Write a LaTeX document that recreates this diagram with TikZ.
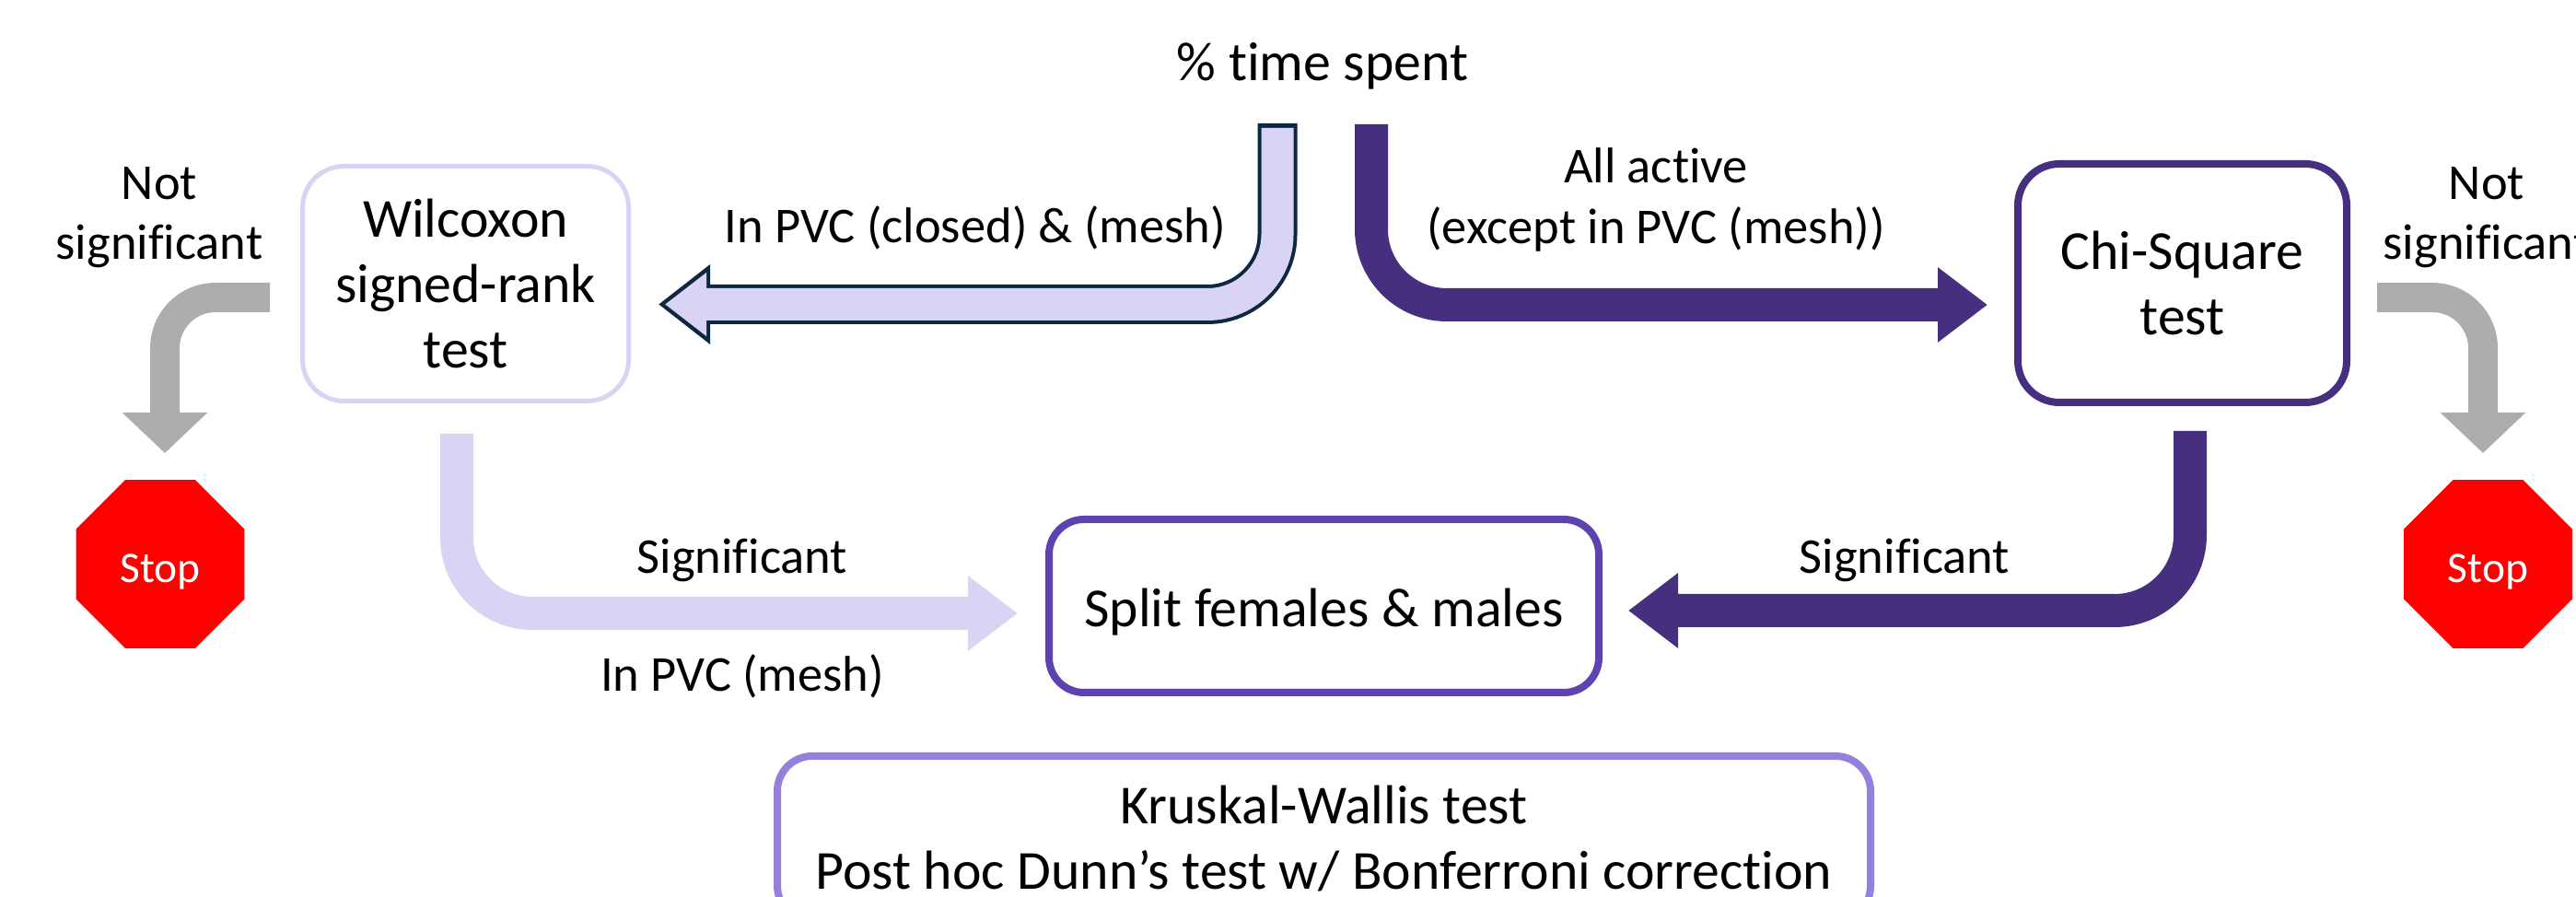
\documentclass[tikz,border=0pt]{standalone}
\usepackage{fontspec}
\setmainfont{Carlito}[Ligatures=CommonOff]
\usetikzlibrary{arrows.meta,shapes.geometric}
\definecolor{pale}{HTML}{DAD4F4}
\definecolor{deep}{HTML}{472F7F}
\definecolor{mid}{HTML}{5E43B0}
\definecolor{soft}{HTML}{9580DC}
\definecolor{ink}{HTML}{0E2841}
\definecolor{stopgray}{HTML}{ADADAD}
\begin{document}
\begin{tikzpicture}[
        testbox/.style={draw,rounded corners=0.45cm,align=center,fill=white,inner sep=0pt,
            font=\fontsize{17}{20.2}\selectfont},
        lbl/.style={align=center,inner sep=0pt,font=\fontsize{15.5}{18.6}\selectfont},
        flow/.style={line width=0.36cm,rounded corners=0.82cm,line join=miter,
            -{Triangle[width=0.78cm,length=0.54cm]}},
        halt/.style={line width=0.32cm,rounded corners=0.55cm,line join=miter,color=stopgray,
            -{Triangle[width=0.9cm,length=0.44cm]}}
    ]
        \useasboundingbox (0,0) rectangle (27.97,-9.74);
        \clip (0,0) rectangle (27.97,-9.74);
        \node (wilcoxon) [testbox,draw=pale,line width=0.05cm,minimum width=3.54cm,minimum height=2.55cm] at (5.055,-3.08) {Wilcoxon\\signed-rank\\test};
        \node (chi) [testbox,draw=deep,line width=0.08cm,minimum width=3.57cm,minimum height=2.59cm] at (23.695,-3.075) {Chi-Square\\test};
        \node (split) [testbox,draw=mid,line width=0.08cm,minimum width=5.97cm,minimum height=1.88cm,rounded corners=0.38cm,text height=0.55cm] at (14.375,-6.58) {Split females \& males};
        \node (kruskal) [testbox,draw=soft,line width=0.08cm,minimum width=11.87cm,minimum height=1.79cm,rounded corners=0.38cm] at (14.375,-9.105) {Kruskal-Wallis test\\Post hoc Dunn’s test w/ Bonferroni correction};
        \begin{scope}[every node/.style={regular polygon,regular polygon sides=8,fill=red,text=white,minimum size=1.98cm,inner sep=0pt,text height=0.48cm,font=\fontsize{13.5}{15}\selectfont}]
            \node (stopl) at (1.74,-6.125) {Stop};
            \node (stopr) at (27.015,-6.125) {Stop};
        \end{scope}
        \begin{scope}[every node/.style={lbl}]
            \node (time) [font=\fontsize{17}{20}\selectfont] at (14.36,-0.72) {\% time spent};
            \node (nsl) at (1.73,-2.36) {Not\\significant};
            \node (nsr) at (27.0,-2.36) {Not\\significant};
            \node (closed) at (10.59,-2.47) {In PVC (closed) \& (mesh)};
            \node (active) at (17.98,-2.17) {All active\\(except in PVC (mesh))};
            \node (sigl) at (8.06,-6.08) {Significant};
            \node (mesh) at (8.06,-7.34) {In PVC (mesh)};
            \node (sigr) at (20.68,-6.08) {Significant};
        \end{scope}
        \coordinate (a1) at (13.87,-1.34);
        \coordinate (a2) at (7.15,-3.305);
        \coordinate (b1) at (14.89,-1.35);
        \coordinate (b2) at (21.58,-3.31);
        \coordinate (c1) at (4.96,-4.71);
        \coordinate (c2) at (11.05,-6.66);
        \coordinate (d1) at (23.78,-4.68);
        \coordinate (d2) at (17.68,-6.63);
        \coordinate (e1) at (2.93,-3.23);
        \coordinate (e2) at (1.79,-4.92);
        \coordinate (f1) at (25.81,-3.23);
        \coordinate (f2) at (26.96,-4.92);
        % outlined arrow, two layers
        \draw[line width=0.43cm,rounded corners=0.76cm,line join=miter,color=ink,-{Triangle[width=0.83cm,length=0.56cm]}] (a1) |- (a2);
        \draw[line width=0.35cm,rounded corners=0.76cm,line join=miter,color=pale,shorten <=0.05cm,shorten >=0.07cm,-{Triangle[width=0.66cm,length=0.45cm]}] (a1) |- (a2);
        \draw[flow,color=deep] (b1) |- (b2);
        \draw[flow,color=pale] (c1) |- (c2);
        \draw[flow,color=deep] (d1) |- (d2);
        \draw[halt] (e1) -| (e2);
        \draw[halt] (f1) -| (f2);
    \end{tikzpicture}
\end{document}
